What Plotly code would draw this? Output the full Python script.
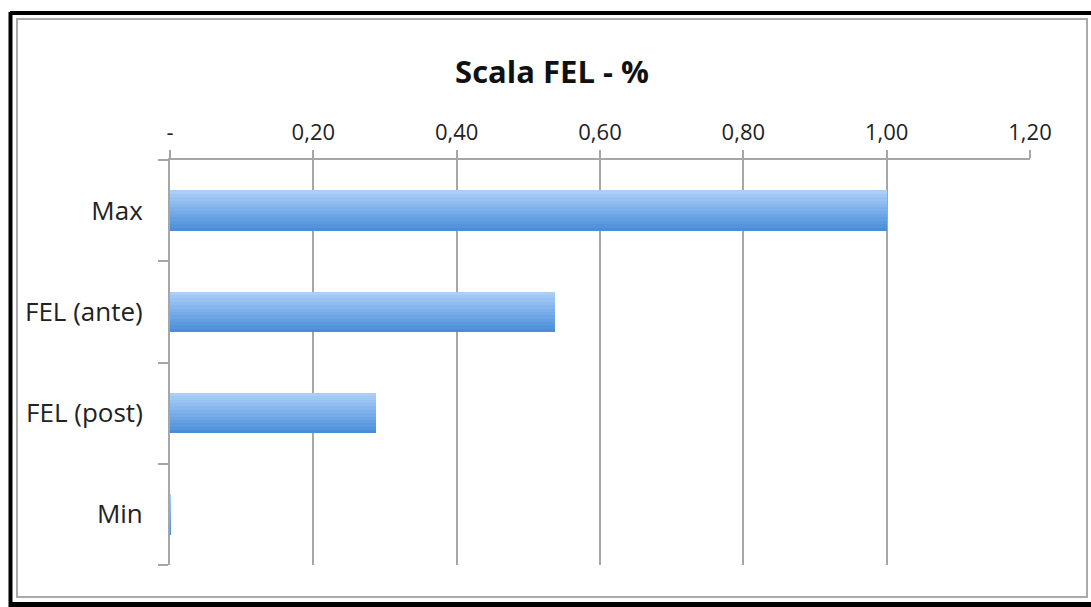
import plotly.graph_objects as go

categories = ["Min", "FEL (post)", "FEL (ante)", "Max"]
values = [0.001, 0.287, 0.537, 1.0]
tick_vals = [0, 0.2, 0.4, 0.6, 0.8, 1.0, 1.2]
tick_text = ["-", "0,20", "0,40", "0,60", "0,80", "1,00", "1,20"]
title_text = "Scala FEL - %"

W, H = 1091, 607
ML, MR, MT, MB = 170, 61, 160, 42
PW, PH = W - ML - MR, H - MT - MB

def px_x(x):
    return (x - ML) / PW

def px_y(y):
    return 1 - (y - MT) / PH

fig = go.Figure()

# gradient bars built from slices (bottom dark -> top light)
n = 12
bar_w = 0.4
c0 = (74, 142, 218)
c1 = (170, 206, 248)
for k in range(n):
    t = k / (n - 1)
    col = tuple(round(c0[i] + (c1[i] - c0[i]) * t) for i in range(3))
    fig.add_trace(go.Bar(
        y=categories, x=values, orientation="h",
        width=bar_w / n, offset=-bar_w / 2 + k * bar_w / n,
        marker=dict(color="rgb(%d,%d,%d)" % col, line=dict(width=0)),
        showlegend=False, hoverinfo="x+y",
    ))

fig.update_layout(
    width=W, height=H,
    margin=dict(l=ML, r=MR, t=MT, b=MB),
    paper_bgcolor="white", plot_bgcolor="white",
    barmode="overlay", bargap=0,
    font=dict(family="Open Sans", size=20, color="#222"),
    title=dict(text="<b>" + title_text + "</b>", x=0.506, xanchor="center",
               y=1 - 72 / H, yanchor="middle",
               font=dict(family="Open Sans", size=31, color="#111")),
    xaxis=dict(
        side="top", range=[0, 1.2], tickvals=tick_vals, ticktext=tick_text,
        showgrid=True, gridcolor="#a6a6a6", gridwidth=2,
        showline=True, linecolor="#a6a6a6", linewidth=2,
        ticks="outside", ticklen=8, tickwidth=2, tickcolor="#a6a6a6",
        ticklabelstandoff=1, zeroline=False,
        tickfont=dict(size=22),
    ),
    yaxis=dict(
        categoryorder="array", categoryarray=categories, range=[-0.5, 3.5],
        tickson="boundaries", showgrid=False,
        showline=True, linecolor="#a6a6a6", linewidth=2,
        ticks="outside", ticklen=10, tickwidth=2, tickcolor="#a6a6a6",
        ticklabelstandoff=20, tickfont=dict(size=26),
    ),
    shapes=[
        # inner grey frame
        dict(type="rect", xref="paper", yref="paper",
             x0=px_x(17), x1=px_x(1087), y0=px_y(597), y1=px_y(19),
             line=dict(color="#aaaaaa", width=2), layer="below"),
        # black outer frame (top, left, bottom)
        dict(type="line", xref="paper", yref="paper",
             x0=px_x(10), x1=px_x(1091), y0=px_y(13), y1=px_y(13),
             line=dict(color="black", width=4)),
        dict(type="line", xref="paper", yref="paper",
             x0=px_x(10.5), x1=px_x(10.5), y0=px_y(12), y1=px_y(607),
             line=dict(color="black", width=4)),
        dict(type="line", xref="paper", yref="paper",
             x0=px_x(10), x1=px_x(1091), y0=px_y(604.5), y1=px_y(604.5),
             line=dict(color="black", width=5)),
    ],
)

fig.write_html("out.html")
